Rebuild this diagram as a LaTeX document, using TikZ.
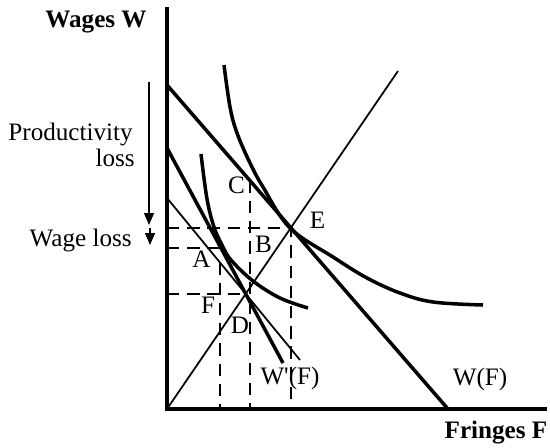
\documentclass[tikz,border=0pt]{standalone}
\usepackage{fontspec}
\setmainfont{Liberation Serif}
\usepackage{tikz}
\usetikzlibrary{arrows.meta, positioning, calc}

\begin{document}
\begin{tikzpicture}[
            x=0.02cm, y=0.02cm,
            every node/.style={font=\fontsize{14.3pt}{16pt}\selectfont, inner sep=0pt},
            axislabel/.style={font=\fontsize{14.3pt}{16pt}\selectfont\bfseries, anchor=base},
            ptlabel/.style={anchor=base},
            sidelabel/.style={anchor=base east},
            axisline/.style={line width=2.4pt},
            thickline/.style={line width=2pt},
            thinline/.style={line width=1pt},
            guide/.style={line width=0.9pt, dash pattern=on 7pt off 4.5pt},
            lossarrow/.style={-{Triangle[length=0.24cm, width=0.2cm]}, line width=0.8pt}
        ]

        \useasboundingbox[fill=white] (-167,-38) rectangle (383,409);

        % --- 1. AXES ---
        \coordinate (O) at (0,0);
        \coordinate (wtop) at (0,402);
        \coordinate (fend) at (380,0);
        \draw[axisline] (wtop) -- (O) -- (fend);

        \node[axislabel] (wlabel) at (-71,381) {Wages W};
        \node[axislabel] (flabel) at (329,-29) {Fringes F};

        % --- 2. LINES ---
        \coordinate (wfA) at (0,324);
        \coordinate (wfB) at (281,0);
        \coordinate (rayEnd) at (231,338);
        \coordinate (wpA) at (0,261);
        \coordinate (wpB) at (116,46);
        \coordinate (tlA) at (0,211);
        \coordinate (tlB) at (133,49);

        \draw[thickline] (wfA) -- (wfB);
        \draw[thinline] (O) -- (rayEnd);
        \draw[thickline] (wpA) -- (wpB);
        \draw[thinline] (tlA) -- (tlB);

        \coordinate (E) at (intersection of wfA--wfB and O--rayEnd);
        \coordinate (D) at (intersection of wpA--wpB and O--rayEnd);
        \coordinate (C) at ($(wfA)!0.2954!(wfB)$);
        \coordinate (T) at (54,161);
        \coordinate (G) at ($(tlA)!0.3985!(tlB)$);

        % --- 3. INDIFFERENCE CURVES ---
        \draw[thickline] plot[smooth, tension=0.6] coordinates {
            (57,344) (63,302) (70,276) (83,246) (96,222) (123,181)
            (166,152) (200,131) (233,116) (266,107) (316,104)};
        \draw[thickline] plot[smooth, tension=0.6] coordinates {
            (34,255) (40,210) (47,182) (55,164) (64,149) (86,128)
            (113,111) (141,101)};

        % --- 4. DASHED GUIDES ---
        \draw[guide] (O |- E) -- (E) -- (E |- O);
        \draw[guide] (O |- T) -- (T);
        \draw[guide] (O |- D) -- (D);
        \draw[guide] (C) -- (C |- O);
        \draw[guide] (G) -- (G |- O);

        % --- 5. POINT LABELS ---
        \node[ptlabel] (labC) at (69.5,216) {C};
        \node[ptlabel] (labB) at (96.5,157) {B};
        \node[ptlabel] (labE) at (150.5,181) {E};
        \node[ptlabel] (labA) at (34.5,142) {A};
        \node[ptlabel] (labF) at (41,96) {F};
        \node[ptlabel] (labD) at (73,76) {D};
        \node[ptlabel] (labWp) at (123,25) {W\textquotesingle(F)};
        \node[ptlabel] (labW) at (313,24) {W(F)};

        % --- 6. LOSS ARROWS ---
        \node[sidelabel] (prodtxt) at (-34,269) {Productivity};
        \node[sidelabel] (losstxt) at ($(prodtxt.base east)+(2,-26)$) {loss};
        \node[sidelabel] (wagetxt) at (-35,163) {Wage loss};

        \coordinate (plTop) at (-18,327);
        \coordinate (plTip) at (-18,184);
        \coordinate (wlTop) at (-17,181);
        \coordinate (wlTip) at (-17,164);
        \draw[lossarrow] (plTop) -- (plTip);
        \draw[lossarrow] (wlTop) -- (wlTip);

        \end{tikzpicture}
\end{document}
